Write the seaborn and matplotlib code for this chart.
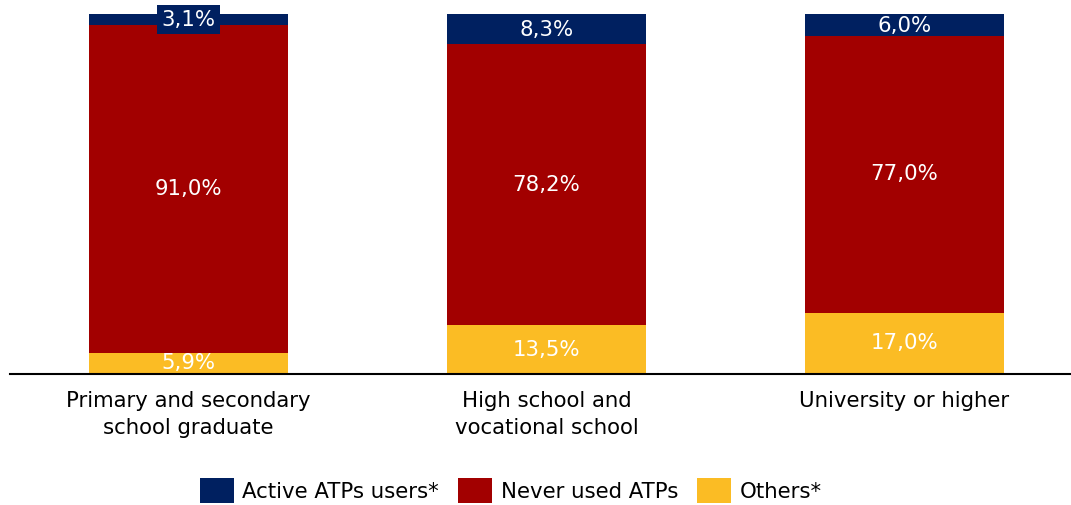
import matplotlib
matplotlib.use("Agg")
import matplotlib.pyplot as plt
import seaborn as sns
import pandas as pd
import numpy as np
from matplotlib.patches import Patch

categories = ["Primary and secondary\nschool graduate",
              "High school and\nvocational school",
              "University or higher"]
others = [5.9, 13.5, 17.0]
never_used = [91.0, 78.2, 77.0]
active = [3.1, 8.3, 6.0]
series_names = ["Active ATPs users*", "Never used ATPs", "Others*"]
colors = {"Active ATPs users*": "#002060",
          "Never used ATPs": "#A20000",
          "Others*": "#FBBC24"}

sns.set_theme(style="white")
plt.rcParams["font.family"] = ["DejaVu Sans"]

fig = plt.figure(figsize=(10.71, 5.05), dpi=100)
ax = fig.add_axes([0.0093, 0.2594, 0.9907, 0.7129])

df = pd.DataFrame({"cat": categories, "others": others,
                   "never": never_used, "active": active})
df["top_never"] = df["others"] + df["never"]
df["top_active"] = df["top_never"] + df["active"]

w = 0.556
sns.barplot(data=df, x="cat", y="top_active", color=colors["Active ATPs users*"],
            width=w, saturation=1, ax=ax, linewidth=0)
sns.barplot(data=df, x="cat", y="top_never", color=colors["Never used ATPs"],
            width=w, saturation=1, ax=ax, linewidth=0)
sns.barplot(data=df, x="cat", y="others", color=colors["Others*"],
            width=w, saturation=1, ax=ax, linewidth=0)

fs = 15.3
def fmt(v):
    return f"{v:.1f}%".replace(".", ",")

for i in range(len(categories)):
    o, n, a = others[i], never_used[i], active[i]
    ax.text(i, o / 2, fmt(o), ha="center", va="center", color="white", fontsize=fs)
    ax.text(i, o + n / 2, fmt(n), ha="center", va="center", color="white", fontsize=fs)
    if a < 5:
        ax.text(i, o + n + a / 2, fmt(a), ha="center", va="center", color="white",
                fontsize=fs, bbox=dict(boxstyle="square,pad=0.22",
                                       fc=colors["Active ATPs users*"], ec="none"))
    else:
        ax.text(i, o + n + a / 2 - 0.4, fmt(a), ha="center", va="center", color="white", fontsize=fs)

ax.set_xlim(-0.4986, 2.465)
ax.set_ylim(0, 100)
ax.set_xlabel("")
ax.set_ylabel("")
ax.set_yticks([])
ax.tick_params(axis="x", length=0, labelsize=fs, pad=12, colors="#000000")
for lab in ax.get_xticklabels():
    lab.set_linespacing(1.45)
for s in ["top", "right", "left"]:
    ax.spines[s].set_visible(False)
ax.spines["bottom"].set_color("#000000")
ax.spines["bottom"].set_linewidth(1.5)

handles = [Patch(facecolor=colors[s], edgecolor="none", label=s) for s in series_names]
leg = fig.legend(handles=handles, loc="center", bbox_to_anchor=(0.477, 0.0285), ncol=3,
                 frameon=False, fontsize=fs, handlelength=1.6, handleheight=1.45,
                 handletextpad=0.4, columnspacing=0.9)
for t in leg.get_texts():
    t.set_color("#000000")

fig.savefig("out.png", dpi=100)
